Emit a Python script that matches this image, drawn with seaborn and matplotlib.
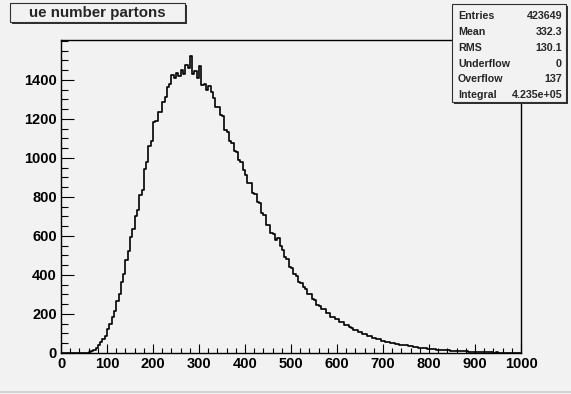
import numpy as np
import pandas as pd
import seaborn as sns
import matplotlib
matplotlib.use("Agg")
import matplotlib.pyplot as plt
from matplotlib.patches import Rectangle
from matplotlib.lines import Line2D
from matplotlib.ticker import MultipleLocator

# ---- data (counts per unit in 5-wide bins) ----
bin_width = 5
x_min, x_max = 0, 1000
counts = [
    0, 0, 0, 0, 0, 0, 0, 0, 0, 0,
    0, 1, 4, 9, 17, 26, 41, 55, 74, 88,
    122, 147, 184, 216, 266, 301, 364, 405, 478, 524,
    596, 638, 702, 733, 812, 838, 941, 978, 1061, 1088,
    1182, 1190, 1238, 1236, 1289, 1312, 1365, 1377, 1426, 1408,
    1437, 1418, 1452, 1433, 1478, 1460, 1521, 1431, 1448, 1409,
    1472, 1372, 1381, 1349, 1367, 1338, 1306, 1259, 1262, 1218,
    1214, 1146, 1134, 1088, 1079, 1035, 1031, 988, 978, 936,
    912, 871, 872, 822, 817, 772, 768, 718, 708, 656,
    655, 617, 612, 578, 590, 548, 528, 491, 481, 442,
    434, 405, 397, 364, 360, 336, 327, 301, 301, 278,
    270, 248, 242, 226, 224, 205, 204, 186, 187, 172,
    173, 158, 157, 143, 142, 131, 129, 119, 119, 108,
    107, 98, 96, 88, 88, 79, 79, 70, 70, 64,
    63, 57, 56, 51, 53, 47, 47, 43, 43, 39,
    39, 35, 35, 31, 31, 28, 28, 24, 24, 21,
    21, 18, 19, 16, 16, 14, 15, 13, 13, 11,
    11, 10, 10, 9, 9, 8, 8, 7, 6, 5,
    5, 4, 5, 4, 3, 3, 3, 3, 2, 3,
    2, 2, 2, 2, 2, 1, 2, 1, 1, 1,
]
title = "ue number partons"
stat_names = ["Entries", "Mean", "RMS", "Underflow", "Overflow", "Integral"]
stat_values = ["423649", "332.3", "130.1", "0", "137", "4.235e+05"]
x_ticks = [0, 100, 200, 300, 400, 500, 600, 700, 800, 900, 1000]
y_ticks = [0, 200, 400, 600, 800, 1000, 1200, 1400]
y_top = 1605

centers = np.arange(x_min, x_max, bin_width) + bin_width / 2
df = pd.DataFrame({"x": centers, "w": np.array(counts, dtype=float)})

# ---- figure ----
W, H = 571, 394
bg = "#f2f2f2"
sns.set_style("ticks")
plt.rcParams["font.family"] = ["Liberation Sans", "DejaVu Sans"]
plt.rcParams["font.weight"] = "bold"

fig = plt.figure(figsize=(W / 100, H / 100), dpi=100, facecolor=bg)

def fx(px):
    return px / W

def fy(py):
    return 1 - py / H

ax = fig.add_axes([fx(61), fy(353), fx(521) - fx(61), fy(40) - fy(353)])
ax.set_facecolor(bg)

sns.histplot(data=df, x="x", weights="w", binwidth=bin_width,
             binrange=(x_min, x_max), element="step",
             fill=False, color="black", linewidth=1.2, ax=ax)

ax.set_xlim(x_min, x_max)
ax.set_ylim(0, y_top)
ax.set_xticks(x_ticks)
ax.set_yticks(y_ticks)
ax.xaxis.set_minor_locator(MultipleLocator(20))
ax.yaxis.set_minor_locator(MultipleLocator(50))
ax.set_xlabel("")
ax.set_ylabel("")
for s in ax.spines.values():
    s.set_visible(True)
    s.set_color("black")
    s.set_linewidth(1.0)
ax.tick_params(axis="both", which="both", direction="in", colors="black",
               top=False, right=False, labelsize=10.5, width=0.8)
ax.tick_params(axis="x", which="major", length=6.5, pad=3)
ax.tick_params(axis="x", which="minor", length=3.3)
ax.tick_params(axis="y", which="major", length=9.5, pad=3)
ax.tick_params(axis="y", which="minor", length=5)
for lab in ax.get_xticklabels() + ax.get_yticklabels():
    lab.set_fontweight("bold")

# ---- title box ----
def box(x0, y0, x1, y1, z=5):
    shadow = Rectangle((fx(x0 + 2), fy(y1 + 2)), fx(x1 - x0), fy(y0) - fy(y1),
                       transform=fig.transFigure, facecolor="#303030",
                       edgecolor="none", zorder=z)
    rect = Rectangle((fx(x0), fy(y1)), fx(x1 - x0), fy(y0) - fy(y1),
                     transform=fig.transFigure, facecolor=bg,
                     edgecolor="#303030", linewidth=0.8, zorder=z + 1)
    fig.patches.extend([shadow, rect])

box(10, 3, 185, 22)
fig.text(fx(97), fy(13), title, ha="center", va="center", fontsize=10.9,
         fontweight="bold", zorder=10)

# ---- stats box ----
box(452, 4, 566, 102)
row_y = [16, 32, 48, 64, 79, 95]
for name, val, yy in zip(stat_names, stat_values, row_y):
    fig.text(fx(458), fy(yy), name, ha="left", va="center", fontsize=7.7,
             fontweight="bold", zorder=10)
    fig.text(fx(562), fy(yy), val, ha="right", va="center", fontsize=7.7,
             fontweight="bold", zorder=10)

# canvas bottom border
fig.lines.append(Line2D([0, 1], [fy(391.5), fy(391.5)], transform=fig.transFigure,
                        color="#cccccc", linewidth=1.2))

fig.savefig("out.png", dpi=100, facecolor=bg)
